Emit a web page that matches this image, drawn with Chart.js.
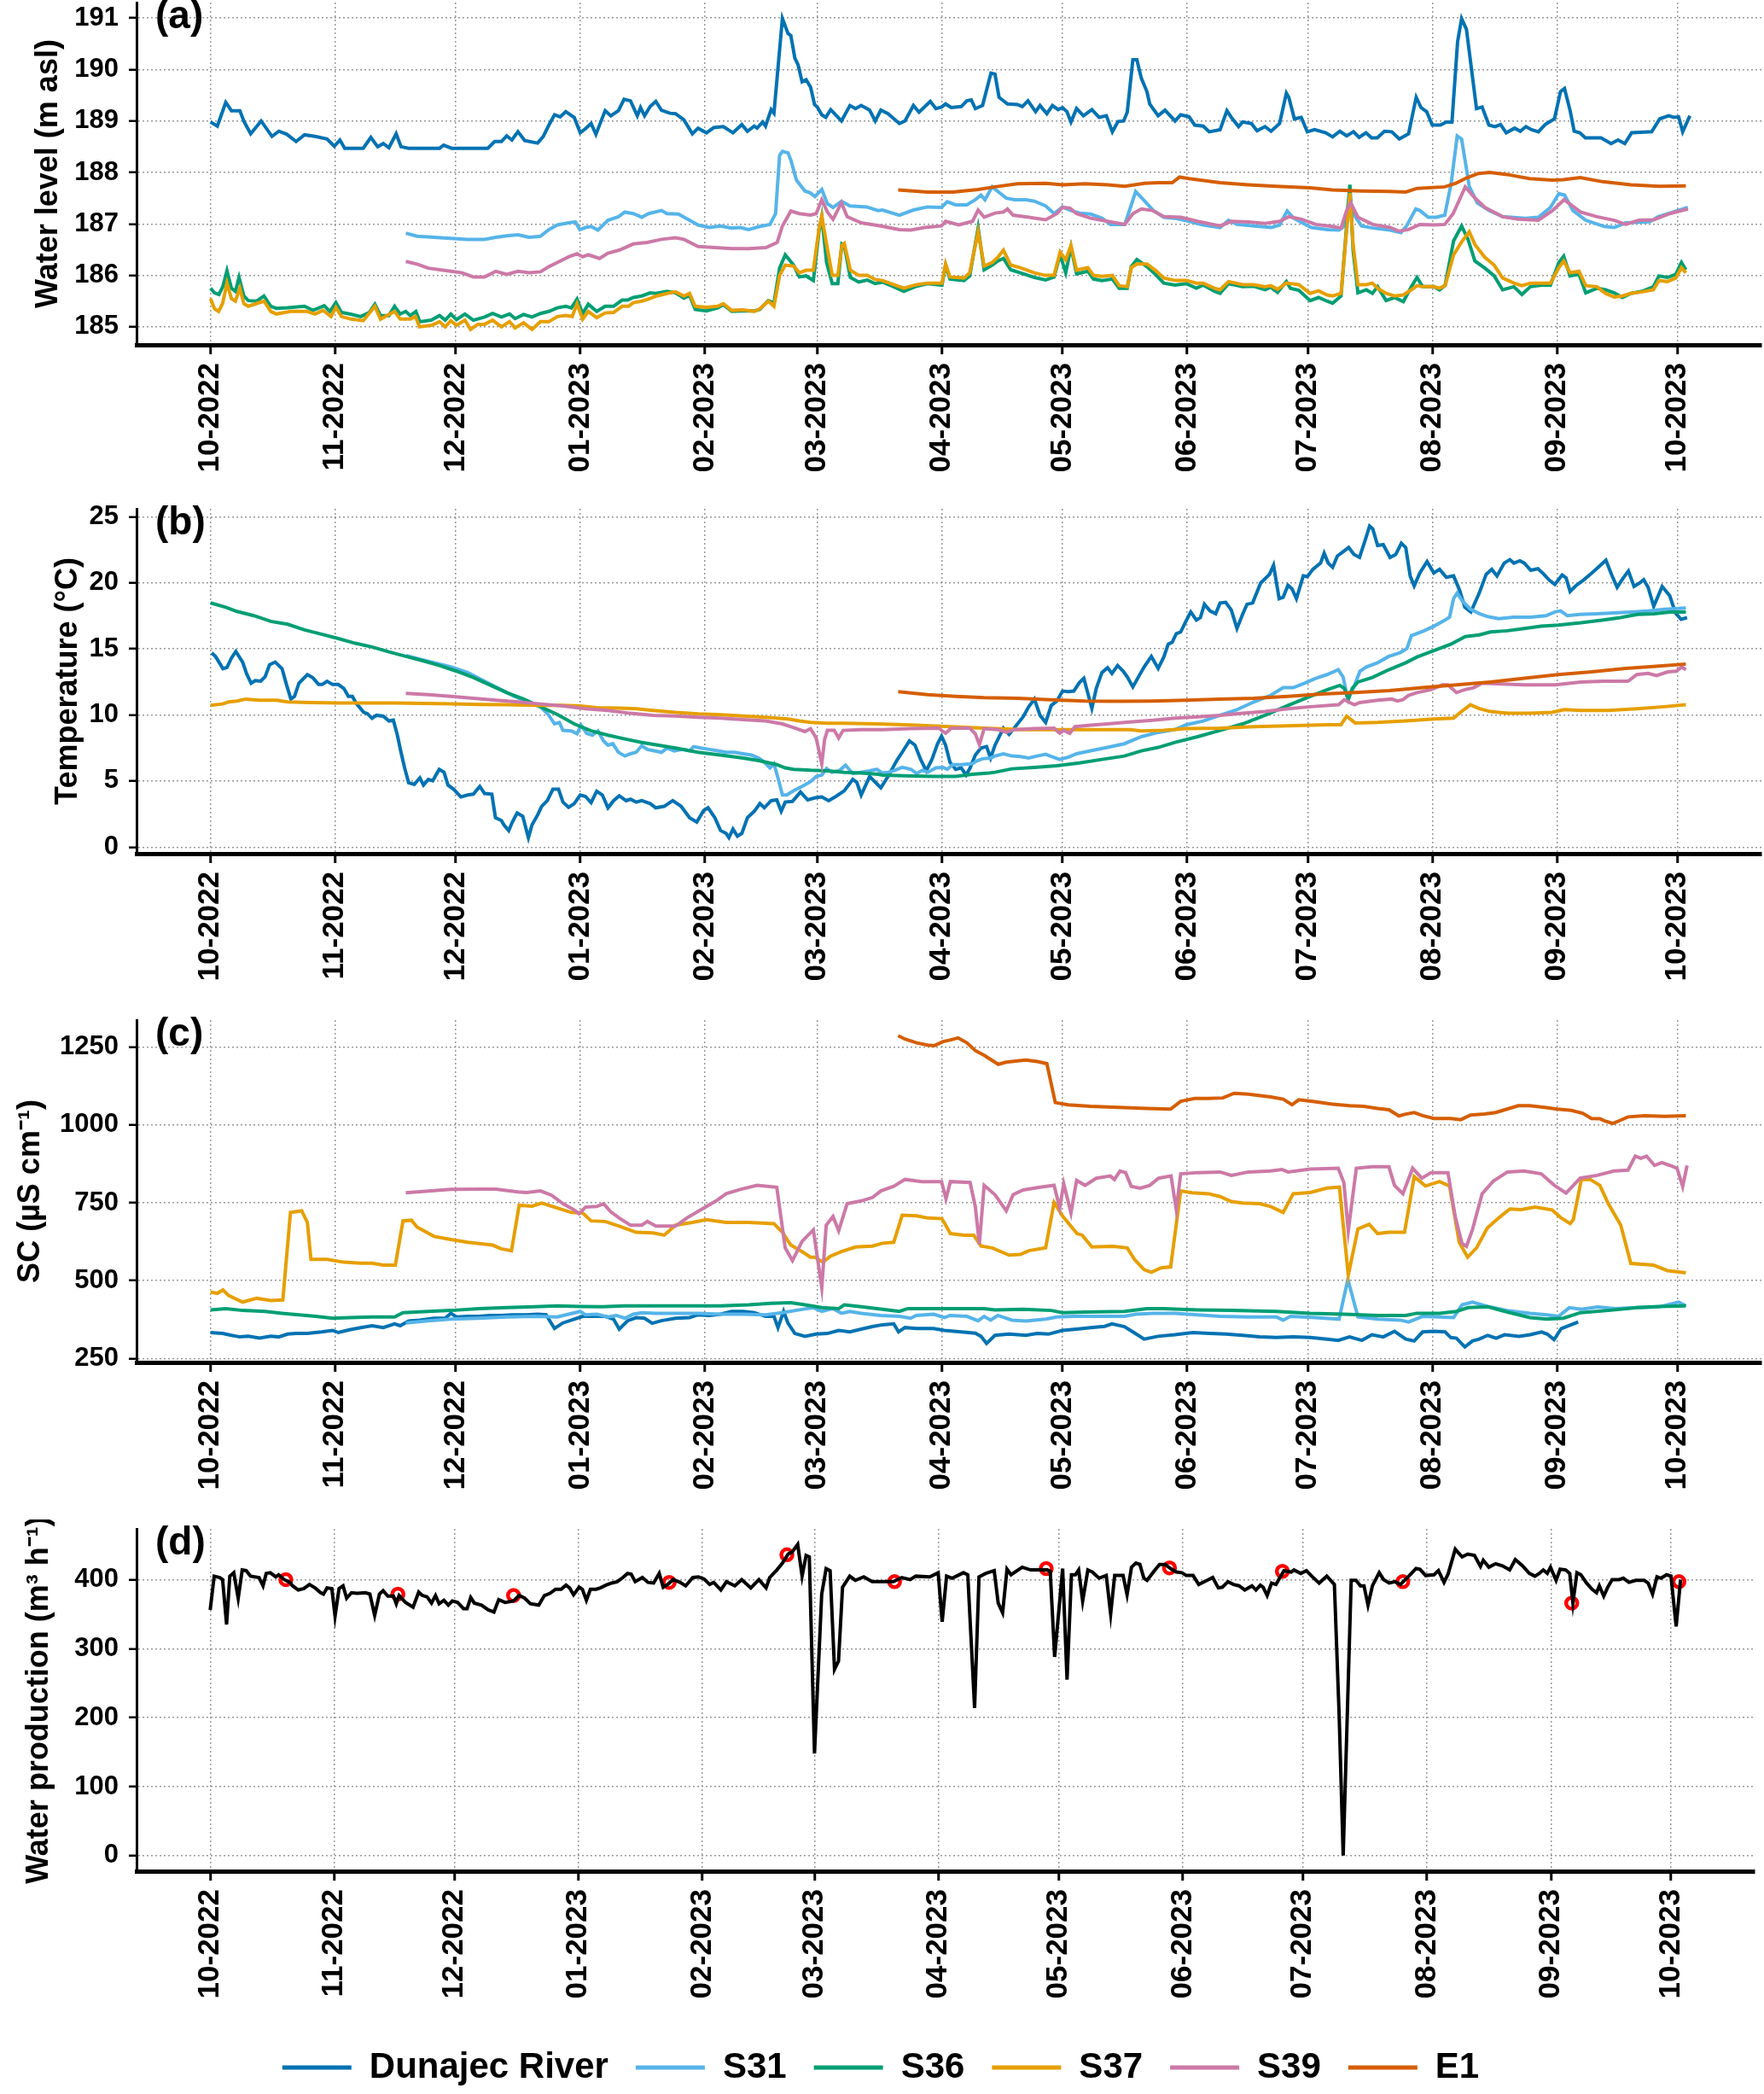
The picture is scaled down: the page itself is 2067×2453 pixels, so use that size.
<!DOCTYPE html>
<html>
<head>
<meta charset="utf-8">
<script src="https://cdn.jsdelivr.net/npm/chart.js@4.4.1/dist/chart.umd.min.js"></script>
<style>
  body { margin: 0; background: #fff; width: 2067px; height: 2453px; position: relative; overflow: hidden; }
  canvas { position: absolute; left: 0; }
</style>
</head>
<body>
<canvas id="panelA" width="2067" height="590" style="top:0px"></canvas>
<canvas id="panelB" width="2067" height="590" style="top:590px"></canvas>
<canvas id="panelC" width="2067" height="600" style="top:1180px"></canvas>
<canvas id="panelD" width="2067" height="673" style="top:1780px"></canvas>
<script>
// days counted from 1 Oct 2022
const monthDays = [0, 31, 61, 92, 123, 151, 182, 212, 243, 273, 304, 335, 365];
const monthLabels = ["10-2022", "11-2022", "12-2022", "01-2023", "02-2023", "03-2023", "04-2023",
  "05-2023", "06-2023", "07-2023", "08-2023", "09-2023", "10-2023"];
const seriesNames = ["Dunajec River", "S31", "S36", "S37", "S39", "E1"];
const seriesColors = ["#0072B2", "#56B4E9", "#009E73", "#E69F00", "#CC79A7", "#D55E00"];

// (a) water level, m asl  [day, value]
const levelRiver = [[0,188.98],[1.7,188.9],[3.8,189.36],[5.2,189.2],[7.3,189.2],[8.4,188.98],[10,188.75],[12.6,189.0],[15.3,188.7],[17,188.8],[19,188.74],[21.3,188.6],[23.4,188.73],[26,188.7],[29,188.65],[30.8,188.51],[32.2,188.63],[33.4,188.47],[38,188.47],[39.9,188.68],[41.6,188.5],[43,188.56],[44.4,188.48],[46.2,188.75],[47.4,188.5],[49.3,188.47],[57,188.47],[58,188.53],[60,188.47],[69,188.47],[70.7,188.6],[72.4,188.6],[73.7,188.71],[75,188.63],[76.5,188.79],[78.2,188.62],[81.4,188.57],[82.8,188.7],[84.2,188.92],[85.6,189.12],[87,189.08],[88.4,189.18],[90.5,189.07],[92,188.77],[93.3,188.85],[94.7,188.95],[95.9,188.74],[98.2,189.2],[99.6,189.1],[101.5,189.2],[102.9,189.42],[104.5,189.39],[106.2,189.1],[107,189.26],[108,189.1],[109.4,189.28],[110.8,189.38],[112.2,189.21],[114.3,189.15],[115.7,189.14],[117.8,189.02],[119.9,188.75],[121.3,188.86],[123.4,188.77],[125.2,188.87],[127.6,188.89],[130,188.77],[132.2,188.93],[133.6,188.8],[135.3,188.9],[136,188.86],[137.4,188.98],[138.1,188.9],[139.5,189.22],[140.2,189.15],[142.3,190.99],[143.7,190.7],[144.4,190.66],[145.4,190.22],[146.2,190.09],[147.2,189.76],[148.2,189.8],[149.3,189.66],[150.3,189.32],[151,189.27],[152.1,189.12],[153.1,189.07],[154.3,189.22],[157,189.0],[159.1,189.3],[160.5,189.24],[161.9,189.3],[164,189.21],[165.4,189.0],[166.8,189.21],[168.6,189.14],[171.4,188.95],[172.8,189.0],[174.9,189.3],[176.3,189.17],[179.1,189.38],[180.5,189.24],[181.9,189.27],[182.9,189.33],[184.3,189.26],[186.8,189.28],[188.2,189.39],[189.3,189.41],[190.3,189.24],[192.1,189.3],[194.2,189.93],[195.2,189.91],[196.2,189.46],[198.3,189.33],[200.8,189.32],[202,189.28],[203.4,189.39],[205.3,189.18],[206.4,189.3],[208.1,189.14],[209.5,189.3],[210.9,189.22],[212,189.26],[213.1,189.18],[214.1,188.98],[215.5,189.24],[217.2,189.1],[219.3,189.22],[221.1,189.07],[222.9,189.1],[224.4,188.79],[225.8,188.99],[227.2,189.0],[228.1,189.17],[229.5,190.19],[230.5,190.19],[231.6,189.83],[233,189.57],[233.7,189.33],[235.8,189.1],[237.5,189.21],[240,189.0],[241.4,189.12],[243.5,189.08],[244.9,188.92],[247,188.9],[248.5,188.79],[251.2,188.83],[252.9,189.2],[254,189.07],[255.8,188.89],[256.8,188.98],[259,188.95],[260.4,188.81],[262.4,188.89],[263.9,188.8],[266,188.95],[267.7,189.54],[268.3,189.46],[269.7,189.04],[271.4,189.07],[272.9,188.79],[274.7,188.83],[277.5,188.77],[279.2,188.69],[281,188.8],[282.7,188.71],[284.4,188.79],[285.8,188.68],[287.5,188.77],[288.9,188.67],[290.3,188.67],[292.1,188.8],[293.9,188.79],[295.8,188.65],[298.1,188.75],[300,189.46],[301.2,189.26],[302.6,189.18],[304,188.92],[306,188.92],[307.5,188.98],[308.9,188.98],[310.3,190.54],[311.3,190.99],[312.5,190.78],[313.9,189.92],[315,189.24],[316.4,189.27],[318.1,188.92],[319.6,188.89],[321,188.93],[322.4,188.77],[324.5,188.86],[325.9,188.8],[327.3,188.89],[328.7,188.83],[330.4,188.79],[332.1,188.93],[334.4,189.04],[335.9,189.57],[336.9,189.63],[338.3,189.2],[339.3,188.8],[340.7,188.77],[342.1,188.67],[346,188.67],[348.5,188.56],[350.2,188.63],[351.9,188.56],[353.6,188.77],[358.6,188.79],[360.6,189.04],[362.8,189.1],[364.1,189.07],[365.3,189.08],[366.3,188.79],[368.1,189.1]];
const levelS31 = [[48.6,186.82],[51.4,186.76],[55.6,186.74],[59.8,186.72],[64,186.7],[68.1,186.7],[71,186.74],[73.7,186.77],[76.5,186.79],[79.3,186.74],[82.1,186.76],[84.2,186.89],[86.3,186.98],[89.1,187.02],[90.8,187.04],[91.9,186.89],[93.3,186.93],[94.7,186.95],[96.4,186.88],[98.9,187.07],[101.5,187.14],[103.1,187.23],[105.2,187.2],[107.3,187.13],[109,187.2],[112.2,187.26],[113.6,187.2],[116.4,187.19],[119.2,187.07],[121.3,186.98],[124.1,186.93],[126.9,186.96],[129.7,186.92],[131.8,186.93],[133.9,186.89],[136.7,186.95],[139.2,186.99],[140.6,187.2],[141.6,188.33],[142.3,188.41],[143.7,188.38],[144.4,188.24],[145.8,187.85],[147.9,187.64],[149.3,187.6],[150.4,187.53],[152.1,187.67],[153.5,187.39],[154.9,187.32],[157,187.44],[159.1,187.35],[163.3,187.33],[166.1,187.26],[167.2,187.27],[171.4,187.17],[174.9,187.27],[178.4,187.33],[181.9,187.32],[183.3,187.43],[185.4,187.37],[188.2,187.37],[190.3,187.47],[191.7,187.56],[192.7,187.47],[194.5,187.72],[195.9,187.63],[198,187.5],[200.1,187.47],[202.9,187.47],[205,187.44],[207.8,187.35],[209.9,187.2],[212,187.33],[214.1,187.26],[216.2,187.21],[219,187.19],[221.8,187.11],[224,186.99],[227.5,186.99],[228.9,187.32],[230.2,187.63],[232.5,187.44],[234.6,187.26],[237.2,187.13],[240,187.11],[243.5,187.05],[247,186.98],[251.2,186.93],[253.3,187.07],[255.4,186.99],[259.8,186.96],[264,186.93],[266,186.98],[267.9,187.25],[269.5,187.11],[273.9,186.93],[278,186.89],[280.8,186.88],[282.2,186.96],[283.4,187.56],[284.3,187.2],[286.4,186.96],[289.2,186.92],[293.5,186.88],[296.2,186.83],[297.6,186.96],[299.9,187.29],[300.9,187.26],[303,187.13],[305.1,187.13],[307.1,187.17],[308.7,187.79],[310.2,188.71],[311.3,188.65],[313.2,187.73],[315.2,187.41],[318.1,187.26],[321.5,187.14],[327.2,187.11],[330.4,187.13],[333.4,187.32],[335.5,187.59],[336.9,187.56],[339,187.26],[342.2,187.07],[346.8,186.95],[349.3,186.93],[352.1,187.02],[358.1,187.04],[360.2,187.14],[363.1,187.21],[367.6,187.32]];
const levelS36 = [[0,185.75],[1,185.66],[2.1,185.63],[3.1,185.79],[4.1,186.09],[5.2,185.75],[6.2,185.69],[7.1,185.96],[8.3,185.6],[9.4,185.51],[11.5,185.5],[13.3,185.6],[15,185.4],[16.4,185.36],[19.2,185.37],[23.4,185.4],[25.5,185.32],[28.3,185.41],[29.7,185.3],[31.2,185.47],[32.6,185.28],[34.6,185.25],[37.4,185.2],[39.5,185.28],[40.9,185.44],[42.3,185.22],[44.4,185.22],[45.8,185.4],[47.2,185.25],[48.6,185.3],[49.7,185.22],[51.1,185.3],[52.1,185.1],[54.9,185.13],[57,185.22],[58.4,185.13],[59.8,185.25],[61.2,185.14],[63.3,185.25],[65.4,185.13],[68.2,185.19],[70.2,185.26],[72.4,185.19],[74.4,185.25],[75.8,185.16],[77.9,185.24],[80,185.19],[82.1,185.26],[84.2,185.3],[86.3,185.37],[88.4,185.4],[89.8,185.37],[91.2,185.54],[92.6,185.26],[94,185.44],[96.1,185.3],[98.2,185.4],[100.3,185.4],[102.4,185.52],[103.8,185.52],[105.2,185.57],[107.3,185.6],[109.4,185.66],[110.8,185.65],[113.6,185.69],[115.7,185.66],[117.8,185.56],[119.2,185.61],[120.6,185.34],[123.4,185.31],[126.2,185.37],[127.6,185.43],[129.7,185.3],[132.5,185.31],[135.3,185.31],[136.7,185.34],[138.8,185.51],[140.2,185.46],[141.6,186.14],[143,186.4],[145.1,186.2],[146.5,185.97],[148.2,185.99],[150,185.9],[151.4,186.85],[152.1,187.14],[153.3,186.25],[154.7,185.84],[156.1,185.84],[157.1,186.61],[157.7,186.58],[159.2,185.96],[161.3,185.87],[163.4,185.91],[165.4,185.84],[167.2,185.87],[170,185.78],[172.5,185.69],[175.7,185.79],[178.4,185.84],[182,185.81],[182.9,186.2],[184,185.93],[187.5,185.9],[188.9,185.99],[191,186.92],[192.5,186.11],[194.5,186.2],[195.9,186.28],[197.3,186.33],[199.1,186.11],[201.5,186.05],[205,185.96],[207.8,185.91],[209.9,185.97],[211.4,186.4],[212.8,186.05],[214.1,186.55],[215.5,186.03],[218.3,186.08],[219.7,185.93],[221.8,185.9],[224.4,185.93],[226.1,185.75],[228.1,185.75],[229.1,186.17],[230.5,186.31],[233,186.17],[235.1,186.02],[237.2,185.85],[240,185.81],[242.8,185.84],[245.3,185.75],[247,185.81],[249.8,185.69],[251.2,185.65],[253.3,185.84],[256.8,185.78],[259.6,185.79],[262.4,185.72],[263.8,185.77],[265.5,185.67],[267.7,185.88],[268.7,185.75],[270.8,185.71],[273.6,185.51],[275.7,185.57],[277.8,185.5],[279.2,185.46],[281.3,185.6],[283.5,187.76],[284.3,186.49],[285.5,185.66],[287.6,185.72],[289.1,185.65],[290.4,185.78],[292.5,185.51],[294.6,185.57],[296.8,185.49],[298.8,185.78],[300.2,185.96],[301.6,185.78],[304.4,185.78],[305.8,185.72],[307.2,185.81],[309.3,186.67],[311.3,186.96],[312.9,186.7],[314.6,186.28],[317.1,186.14],[319.4,185.99],[321.5,185.72],[324.3,185.78],[326.3,185.63],[328.4,185.78],[331.2,185.81],[333.4,185.81],[335.5,186.25],[336.7,186.37],[338.3,185.99],[340.5,186.02],[342.2,185.66],[345,185.75],[347.1,185.72],[349.3,185.66],[351.3,185.57],[353.4,185.65],[356.2,185.69],[359,185.78],[360.4,185.99],[362.5,185.96],[364.6,186.02],[366,186.25],[367.1,186.11]];
const levelS37 = [[0,185.55],[1,185.35],[2,185.3],[3,185.45],[4.1,185.85],[5.2,185.55],[6.2,185.5],[7.3,185.75],[8.3,185.45],[9.4,185.4],[13.3,185.5],[15,185.3],[16.4,185.25],[20,185.3],[24,185.3],[26,185.25],[28,185.32],[30,185.2],[31.2,185.38],[32.6,185.2],[35,185.15],[38,185.12],[40.9,185.4],[42.3,185.15],[45.8,185.3],[47.2,185.15],[49.7,185.15],[51,185.2],[52,185.0],[55,185.03],[57,185.1],[58.4,185.0],[59.8,185.12],[61.2,185.03],[63.3,185.13],[64.7,184.95],[66.5,185.05],[68.2,185.05],[70.2,185.13],[72.4,185.0],[74.4,185.1],[75.8,184.98],[77.9,185.08],[80,184.95],[82.1,185.1],[84.2,185.1],[86.3,185.2],[88.4,185.22],[90,185.2],[91.2,185.45],[92.6,185.15],[94,185.3],[96.1,185.18],[98.2,185.27],[100.3,185.28],[102.4,185.4],[104,185.4],[105.2,185.47],[107.3,185.5],[109.4,185.55],[111,185.6],[113.6,185.65],[115.7,185.68],[117.8,185.6],[119.2,185.65],[120.6,185.4],[123.4,185.38],[126.2,185.4],[127.6,185.45],[129.7,185.32],[132.5,185.33],[135.3,185.3],[136.7,185.35],[138.8,185.5],[140.2,185.4],[141.6,186.0],[143,186.2],[145.1,186.18],[146.5,186.05],[148.2,186.1],[150,186.1],[151.4,186.9],[152.1,187.15],[153.3,186.6],[154.7,186.0],[156.1,186.0],[157.1,186.58],[157.7,186.62],[159.2,186.1],[161.3,186.0],[163.4,186.0],[165.4,185.92],[167.2,185.9],[170,185.82],[172.5,185.75],[175.7,185.82],[178.4,185.85],[182,185.85],[182.9,186.22],[184,185.97],[187.5,185.95],[188.9,186.05],[191,186.85],[192.5,186.18],[194.5,186.25],[195.9,186.35],[197.3,186.49],[199.1,186.2],[201.5,186.15],[205,186.05],[207.8,186.0],[209.9,186.0],[211.4,186.45],[212.8,186.3],[214.1,186.58],[215.5,186.1],[218.3,186.15],[219.7,186.0],[221.8,185.98],[224.4,186.0],[226.1,185.8],[228.1,185.78],[229.1,186.15],[230.5,186.22],[233,186.22],[235.1,186.1],[237.2,185.95],[240,185.9],[242.8,185.9],[245.3,185.85],[247,185.85],[249.8,185.75],[251.2,185.72],[253.3,185.88],[256.8,185.82],[259.6,185.82],[262.4,185.78],[263.8,185.8],[265.5,185.73],[267.7,185.85],[270.8,185.82],[273.6,185.65],[275.7,185.7],[277.8,185.62],[279.2,185.6],[281.3,185.65],[283.5,187.6],[284.3,186.6],[285.5,185.82],[287.6,185.82],[289.1,185.85],[290.4,185.75],[292.5,185.65],[294.6,185.6],[296.8,185.62],[298.8,185.72],[300.2,185.8],[301.6,185.78],[304.4,185.78],[305.8,185.75],[307.2,185.8],[309.3,186.4],[311.3,186.65],[313.2,186.85],[314.6,186.6],[317.1,186.35],[319.4,186.2],[321.5,185.95],[324.3,185.85],[326.3,185.8],[328.4,185.85],[333.4,185.85],[335.5,186.15],[336.7,186.28],[338.3,186.05],[340.5,186.08],[342.2,185.8],[345,185.78],[347.1,185.65],[349.3,185.58],[351.3,185.6],[353.4,185.65],[356.2,185.68],[359,185.72],[360.4,185.9],[362.5,185.88],[364.6,185.95],[366,186.15],[367.1,186.05]];
const levelS39 = [[48.6,186.27],[51.4,186.22],[54.2,186.14],[57,186.11],[59.8,186.08],[62.6,186.05],[65.4,185.97],[68.2,185.97],[71,186.08],[73.7,186.02],[76.5,186.08],[79.3,186.05],[82.1,186.07],[84.2,186.17],[86.3,186.25],[89.1,186.36],[91.2,186.42],[92.6,186.36],[94,186.4],[96.8,186.33],[98.9,186.43],[101.7,186.49],[105.2,186.61],[108.7,186.64],[112.2,186.7],[115.7,186.73],[117.8,186.7],[121.3,186.56],[125.5,186.54],[129.7,186.52],[133.9,186.52],[138.2,186.54],[141,186.64],[142.3,186.96],[144.4,187.25],[146.5,187.2],[149.3,187.17],[150.7,187.2],[152.1,187.47],[153.5,187.23],[154.9,187.09],[157,187.41],[158.4,187.14],[161.9,187.02],[166.8,186.96],[171.4,186.89],[174.2,186.88],[177.7,186.93],[181.9,186.96],[182.9,187.05],[186.2,186.98],[189.6,187.05],[191,187.27],[192.5,187.13],[195.2,187.21],[197.3,187.23],[198.3,187.29],[199.7,187.17],[203.6,187.13],[207.8,187.08],[210.6,187.2],[212,187.32],[213.8,187.31],[215.5,187.2],[219,187.11],[223.2,187.05],[227.5,186.99],[229.5,187.2],[231.6,187.29],[234.4,187.26],[237.2,187.14],[241.4,187.13],[245.6,187.05],[251.2,186.96],[254,187.05],[258.2,187.04],[262.4,187.01],[266,187.05],[268.3,187.14],[271.5,187.09],[275,186.99],[279.2,186.95],[281.3,186.92],[282.7,187.26],[283.7,187.41],[285.5,187.13],[289.2,186.99],[293.5,186.93],[295.7,186.86],[298.1,186.89],[300.9,186.99],[304.4,186.98],[307.1,186.99],[309.2,187.2],[312.2,187.72],[314.3,187.53],[317.1,187.32],[321.5,187.14],[325.4,187.09],[330.4,187.07],[333.9,187.26],[336.8,187.47],[340.9,187.23],[345,187.14],[349.3,187.07],[352.1,186.99],[355.4,187.07],[359.1,187.08],[363.1,187.2],[367.6,187.29]];
const levelE1 = [[171.1,187.66],[178.4,187.62],[184.7,187.62],[191,187.67],[195.2,187.72],[200.8,187.78],[207.8,187.79],[212,187.76],[217.6,187.78],[223.2,187.76],[227.5,187.73],[232.3,187.79],[235.8,187.8],[239.3,187.8],[241.1,187.91],[243.5,187.88],[251.2,187.8],[258.2,187.76],[265.2,187.73],[273.6,187.7],[279.2,187.66],[286.2,187.64],[293.2,187.63],[297.4,187.62],[300.2,187.69],[307.1,187.72],[309.9,187.79],[312.7,187.9],[315.5,187.98],[318.3,188.0],[322.6,187.96],[328.2,187.88],[333.8,187.85],[336.6,187.86],[340.8,187.9],[346.4,187.82],[353.4,187.76],[360.4,187.73],[367.1,187.74]];

// (b) temperature, deg C
const tempRiver = [[0.3,14.7],[1.3,14.4],[3.1,13.5],[4.1,13.6],[5.2,14.3],[6.3,14.8],[8,14.0],[9,13.1],[10.1,12.4],[11.1,12.6],[12.5,12.55],[13.6,12.9],[14.7,13.8],[16.1,14.0],[17.8,13.5],[18.9,12.3],[20,11.2],[20.9,11.4],[22,12.4],[24.1,13.05],[25.5,12.8],[26.9,12.3],[27.8,12.3],[29,12.55],[30.4,12.3],[31.8,12.3],[33.2,12.0],[34.3,11.4],[35.3,11.4],[36.2,10.9],[38.1,10.2],[39,10.1],[40.2,9.75],[41.3,9.97],[43,9.9],[44.4,9.54],[45.5,9.6],[46.5,8.46],[47.4,7.17],[48.3,5.99],[49.3,4.87],[50.7,4.74],[52.1,5.23],[53,4.69],[54.2,5.12],[55.3,5.02],[56.9,5.88],[58.1,5.66],[59.1,4.69],[60.5,4.37],[62.3,3.79],[64,3.94],[65.4,4.0],[67,4.59],[68.2,4.05],[70,4.0],[70.9,2.22],[72.4,2.0],[73,1.68],[74.2,1.25],[75.1,1.89],[76.3,2.58],[77.7,2.33],[79.1,0.71],[80,1.68],[81.4,2.43],[82.4,3.08],[83.8,3.51],[85.2,4.37],[86.6,4.37],[87.7,3.4],[89.1,3.01],[90.5,3.29],[92,3.94],[93.3,3.83],[94.7,3.36],[96.1,4.22],[97.5,3.94],[98.9,2.97],[100.3,3.51],[101.7,3.88],[103.4,3.51],[104.5,3.62],[105.9,3.4],[107.3,3.51],[109.4,3.29],[110.8,2.97],[112.9,3.08],[115,3.51],[117.1,3.08],[119.2,2.22],[121,1.89],[122.7,2.76],[123.8,2.97],[125.5,2.22],[126.9,1.25],[128.3,1.03],[129,0.71],[130,1.36],[131.1,0.82],[132.2,1.03],[133.6,2.22],[135.3,2.71],[136.7,3.29],[137.8,2.97],[139.5,3.51],[140.9,3.57],[142,2.71],[143,3.4],[144.8,3.45],[146.8,4.16],[148.6,3.57],[150.5,3.73],[152.1,3.79],[153.8,3.51],[155.6,3.83],[157.7,4.26],[159.8,5.12],[160.8,4.91],[161.9,3.94],[164,5.34],[165.4,4.91],[166.8,4.48],[168.6,5.34],[170.7,6.52],[172.1,7.17],[173.9,8.03],[175.3,7.71],[176.7,6.63],[178.1,5.77],[179.5,6.63],[180.9,7.82],[181.9,8.4],[182.9,7.71],[184,6.42],[185.4,5.88],[186.8,5.99],[188,5.45],[189,5.99],[190.3,6.96],[191.7,7.49],[193.1,7.6],[194.1,6.74],[195.2,7.71],[197.3,9.0],[198.7,8.53],[200.8,9.32],[202.2,9.86],[203.6,10.62],[205,11.2],[206.4,9.97],[207.8,9.43],[209.2,10.72],[210.6,11.05],[212,11.8],[213.4,11.76],[214.8,11.8],[216.2,12.45],[217.3,12.77],[219.3,10.5],[220.4,12.02],[221.8,13.2],[223.2,13.57],[224.3,13.14],[225.7,13.74],[227.1,13.31],[228.1,12.88],[229.5,12.12],[230.9,12.88],[232.3,13.63],[234.1,14.43],[235.8,13.52],[237.2,14.38],[238.3,15.35],[239.3,15.5],[240.3,16.15],[241.4,16.28],[242.5,16.97],[243.9,17.79],[245.3,17.18],[246.3,17.36],[247.3,18.37],[248.7,17.87],[250.1,17.66],[251.2,18.47],[252.6,18.52],[254,17.94],[255.4,16.54],[256.8,17.61],[257.9,18.37],[259.3,18.47],[261.3,19.98],[263.5,20.63],[264.5,21.32],[265.9,18.8],[266.9,18.91],[268.1,19.81],[269.1,19.55],[270.2,18.8],[271.9,20.52],[272.9,20.46],[274.3,21.02],[276.2,21.49],[277.1,22.24],[278.1,21.49],[279.2,21.17],[280.4,22.03],[281.8,22.35],[283.2,22.67],[284.5,22.14],[285.9,21.92],[287.3,23.21],[288.4,24.29],[289.2,24.07],[290.4,22.82],[291.8,22.89],[293.5,21.92],[294.9,22.14],[296.3,23.0],[297.4,22.67],[298.5,20.52],[299.5,19.77],[300.9,20.74],[302.7,21.6],[304.4,20.74],[305.8,21.02],[307.5,20.41],[309.3,20.52],[310.8,19.44],[312.1,18.15],[313.6,17.79],[315.7,19.23],[317.4,20.63],[318.8,21.02],[320.1,20.52],[321.9,21.49],[323.3,21.75],[324.3,21.49],[325.8,21.66],[326.9,21.49],[328.5,20.95],[330.3,21.06],[331.7,20.67],[333.1,20.2],[334.5,19.87],[336.3,20.59],[337.3,20.37],[338.3,19.34],[339.7,19.77],[341.6,20.2],[343.7,20.74],[345.3,21.17],[347.2,21.71],[348.6,20.63],[350,19.66],[351.4,20.31],[352.8,20.89],[354.2,19.72],[355.6,19.98],[356.6,20.24],[357.7,19.66],[359.1,18.22],[361.2,19.72],[363.1,19.01],[364.5,17.72],[365.9,17.23],[367.4,17.36]];
const tempS31 = [[48.6,14.5],[54.2,14.06],[59.8,13.63],[64,13.2],[68.2,12.55],[72.4,11.9],[75.8,11.37],[79.3,10.94],[82.1,10.62],[84.2,9.97],[85.6,9.32],[86.8,9.43],[87.7,8.83],[89.8,8.79],[91.2,8.57],[92.2,9.22],[93.6,8.61],[95,8.46],[96.4,8.79],[97.8,8.03],[98.9,7.71],[100.1,7.82],[101.5,7.17],[103.1,6.89],[104.5,7.06],[105.9,7.17],[107.3,7.67],[108.7,7.39],[110.4,7.28],[112.2,7.17],[113.6,7.49],[115.4,7.28],[117.4,7.39],[119.2,7.28],[120.2,7.6],[122,7.49],[124.1,7.39],[126.2,7.28],[128.3,7.17],[130.4,7.17],[132.5,7.06],[134.6,6.96],[136.4,6.74],[137.8,6.42],[139.2,5.99],[140.2,6.31],[141.3,5.12],[142.3,3.94],[143.4,3.94],[145.1,4.26],[147.2,4.59],[149.3,4.95],[150.7,5.34],[152.1,5.45],[153.3,5.94],[154.6,5.66],[156.6,5.81],[158,6.2],[159.8,5.56],[161.9,5.66],[164,5.77],[165.8,5.88],[167.2,5.6],[168.6,5.66],[170,5.77],[172.1,6.03],[174.3,5.88],[175.7,5.56],[177.1,5.81],[178.5,5.66],[180.5,5.99],[182.3,6.03],[183.3,5.88],[184.7,6.24],[186.8,6.24],[189.6,6.31],[190.7,6.52],[192.1,6.68],[194.1,6.74],[195.2,6.89],[197.3,7.06],[199.4,6.89],[201.5,6.85],[203.6,6.74],[205.7,6.89],[207.8,7.02],[209.2,6.85],[211.3,6.63],[213.4,6.8],[215.5,7.06],[219,7.28],[223.2,7.54],[227.4,7.82],[231.6,8.35],[235.8,8.68],[240,8.89],[242.8,9.26],[247,9.54],[251.2,9.97],[255.4,10.4],[259.6,10.98],[263.8,11.48],[266.9,12.06],[269.4,12.06],[272.2,12.4],[275,12.77],[277.8,13.05],[280.6,13.42],[281.8,12.88],[282.7,11.58],[284.1,11.8],[286,13.31],[287.6,13.63],[290.4,13.95],[293.2,14.43],[296,14.71],[297.7,15.03],[298.8,16.0],[301.6,16.32],[304.4,16.71],[307.2,17.18],[308.3,17.4],[309.3,18.8],[310.2,19.23],[311.6,18.58],[313.5,18.0],[315.7,17.66],[317.8,17.44],[320.5,17.29],[324.2,17.4],[328.4,17.4],[332.3,17.51],[334.5,17.79],[335.9,17.87],[337.6,17.51],[340.7,17.61],[345,17.66],[349.2,17.72],[353.4,17.79],[357.6,17.87],[361.8,18.0],[367.1,18.09]];
const tempS36 = [[0,18.48],[3.8,18.15],[6.6,17.83],[10.8,17.51],[15,17.08],[19.2,16.86],[23.4,16.43],[27.6,16.11],[31.8,15.78],[36,15.42],[40.2,15.14],[44.4,14.77],[48.6,14.43],[52.8,14.1],[57,13.74],[61.2,13.31],[65.4,12.83],[69.5,12.27],[73.7,11.69],[77.9,11.2],[82.1,10.62],[86.3,10.03],[90.5,9.32],[94.7,8.79],[98.9,8.46],[103.1,8.18],[107.3,7.92],[111.5,7.71],[115.7,7.49],[121.3,7.17],[126.9,6.96],[132.5,6.74],[136.7,6.52],[140.9,6.24],[143,5.99],[145.1,5.88],[149.3,5.81],[153.5,5.77],[157.7,5.66],[161.9,5.6],[166.1,5.51],[167.2,5.45],[174.2,5.38],[179.8,5.34],[185.4,5.34],[189.6,5.51],[193.8,5.6],[195.2,5.66],[199.4,5.92],[205,6.03],[210.6,6.16],[216.2,6.37],[221.8,6.63],[227.4,6.89],[231.6,7.28],[235.8,7.54],[240,7.92],[245.6,8.35],[251.2,8.83],[256.8,9.32],[262.4,9.97],[268.1,10.72],[273.7,11.41],[277.9,11.91],[281,12.23],[282.1,12.02],[283.1,11.15],[284.1,12.02],[285.5,12.49],[289.1,12.83],[293.2,13.42],[297.4,13.95],[300.2,14.38],[304.4,14.86],[308.6,15.35],[312.2,15.93],[315.7,16.06],[318.5,16.28],[322.7,16.37],[326.9,16.54],[331.1,16.71],[335.4,16.8],[341,16.97],[346.6,17.18],[350.8,17.36],[355,17.61],[359.2,17.66],[363.1,17.79],[367.1,17.79]];
const tempS37 = [[0,10.72],[3,10.83],[4.5,10.98],[6.6,11.05],[8.7,11.2],[12.2,11.11],[16.4,11.11],[19.2,10.98],[24.8,10.94],[31.8,10.9],[38.8,10.9],[45.8,10.9],[52.8,10.87],[59.8,10.83],[66.8,10.79],[73.7,10.77],[80.7,10.72],[87.7,10.72],[92,10.68],[96.1,10.55],[101.7,10.51],[105.9,10.47],[110.1,10.34],[115.7,10.19],[121.3,10.08],[126.9,10.01],[132.5,9.91],[138.1,9.82],[143.7,9.69],[146.5,9.54],[149.3,9.43],[153.5,9.37],[157.7,9.37],[166.1,9.32],[175.6,9.22],[184,9.11],[192.5,9.0],[202.3,8.89],[212.1,8.89],[223.2,8.89],[228.8,8.89],[231.6,8.79],[237.2,8.83],[242.8,8.96],[251.2,9.0],[259.6,9.11],[268,9.17],[277.8,9.26],[281.3,9.26],[282.7,9.91],[284.8,9.39],[290.4,9.43],[297.4,9.54],[304.4,9.69],[309.3,9.75],[311.4,10.29],[313.5,10.77],[315.7,10.47],[318.5,10.25],[322.7,10.12],[328.3,10.12],[333.8,10.19],[336.8,10.4],[341,10.34],[347.7,10.34],[355,10.47],[361.7,10.62],[367.1,10.77]];
const tempS39 = [[48.6,11.63],[54.2,11.54],[59.8,11.41],[65.4,11.26],[71,11.11],[76.5,10.98],[82.1,10.83],[87.7,10.68],[93.3,10.47],[98.9,10.34],[104.5,10.12],[110.1,9.97],[115.7,9.91],[121.3,9.82],[126.9,9.75],[132.5,9.65],[138.1,9.54],[142.3,9.32],[145.1,9.04],[147.9,8.74],[149.3,8.96],[150.7,8.25],[152.1,6.31],[152.8,8.14],[153.5,8.83],[155.2,8.83],[156.3,8.25],[157.4,8.83],[161.9,8.89],[167.2,8.89],[174.2,8.96],[181.2,9.0],[182.9,8.61],[184.3,9.0],[188.9,9.0],[190.3,8.57],[191.3,7.75],[192.5,8.96],[196,8.89],[198,8.68],[200.1,8.89],[205,8.96],[209.9,9.0],[211.3,8.61],[212.3,8.83],[213.8,8.61],[215.1,9.11],[219,9.22],[223.2,9.32],[228.8,9.47],[234.4,9.6],[240,9.75],[245.6,9.86],[251.2,9.97],[256.8,10.12],[262.4,10.25],[268.1,10.47],[273.7,10.62],[280.7,10.77],[282.1,11.15],[283.5,10.94],[284.6,10.77],[286,10.94],[290.4,11.11],[293.9,11.2],[295.3,11.05],[296.7,11.15],[298.1,11.48],[300.2,11.69],[303.7,11.91],[306.5,12.27],[307.9,12.27],[310,11.69],[312.1,11.91],[314.3,12.06],[316.4,12.4],[321.3,12.34],[326.9,12.27],[334.6,12.27],[340.9,12.49],[346.5,12.55],[352.7,12.55],[354.9,13.05],[357.7,13.14],[359.8,12.98],[362.6,13.26],[364.7,13.31],[366.1,13.63],[367.1,13.42]];
const tempE1 = [[171.1,11.76],[178.4,11.54],[185.4,11.41],[192.5,11.3],[200.8,11.26],[209.2,11.15],[217.6,11.05],[226,11.03],[234.4,11.05],[242.8,11.11],[251.2,11.2],[259.6,11.26],[268.1,11.41],[276.5,11.58],[284.8,11.69],[293.3,11.84],[301.6,12.06],[310,12.27],[318.4,12.49],[326.9,12.77],[335.3,13.05],[343.7,13.26],[352.1,13.52],[360.5,13.7],[367.1,13.85]];

// (c) specific conductance, uS/cm
const scRiver = [[0,333],[3,330],[5.2,324],[7.3,319],[9.4,321],[12.2,315],[15,321],[17,319],[19.2,328],[21.3,330],[24.1,330],[27.6,335],[30.4,340],[31.8,333],[34.6,342],[37.4,349],[40.2,355],[43,349],[45.8,361],[47.2,355],[49.3,370],[52.1,373],[55.6,379],[58.4,379],[59.8,395],[61.2,383],[64,385],[66.8,385],[69.5,388],[72.4,388],[75.1,390],[78.6,390],[81.4,392],[83.5,390],[85.6,346],[87.7,364],[90.5,376],[92.6,385],[95.4,385],[98.2,385],[100.3,376],[101.7,344],[103.8,371],[105.9,381],[108,379],[109.9,363],[112.2,371],[115.7,379],[119.2,381],[121.3,390],[124.1,388],[126.9,392],[129.7,401],[132.5,401],[135.3,397],[138.1,385],[140.2,385],[141.2,349],[142.6,401],[143.7,363],[145.4,330],[147.9,321],[150.7,328],[153.5,330],[156.3,340],[159.1,335],[161.9,344],[164.7,352],[167.2,358],[170,361],[171.2,335],[172.8,349],[175.7,346],[179.9,346],[182.6,340],[186.8,335],[190.3,331],[191.7,321],[193.1,298],[195.2,324],[198.7,328],[202.9,324],[205.7,330],[208.5,328],[212,340],[215.5,344],[219,349],[222.5,353],[224.3,361],[227.4,352],[229.5,335],[232.3,312],[235.8,321],[240,326],[244.4,333],[248.6,330],[252.6,328],[256.8,324],[261,319],[265.2,317],[269.4,319],[273.6,317],[277.8,312],[280.6,308],[283.4,319],[286.5,308],[289,326],[291.8,319],[294.6,337],[297.4,312],[299.5,306],[301.6,335],[304.4,337],[307.2,335],[308.6,317],[310,315],[312.1,287],[314,306],[315.7,312],[317.8,324],[319.9,315],[322,326],[325.6,321],[328.4,326],[331.2,335],[332.6,328],[334.3,310],[336.1,346],[340.3,367]];
const scS31 = [[48.6,364],[54.2,371],[59.8,376],[66.8,379],[73.7,383],[80.7,385],[86.3,383],[89.1,392],[92,401],[93.3,390],[96.1,392],[98.9,383],[101,388],[103.1,379],[105.2,392],[107.3,397],[110.8,395],[115.7,395],[121.3,395],[126.9,392],[132.5,392],[138.1,390],[142.3,397],[146.5,406],[150,413],[152.1,401],[154.9,410],[157,395],[159.1,401],[161.9,395],[166.8,388],[171.4,385],[174.2,379],[175.6,388],[179.9,392],[182.6,381],[184,388],[188.2,385],[191,371],[192.5,385],[194.1,373],[195.9,388],[199.4,373],[202.9,370],[207.8,376],[210.6,383],[214.8,385],[220.4,385],[227.4,385],[230.2,392],[234.4,395],[240,395],[245.6,390],[251.2,385],[258.2,383],[265.2,383],[266.9,373],[268.7,385],[274.9,381],[280.8,376],[283,504],[285.5,383],[290.4,376],[296,373],[298.1,367],[301.6,385],[305.8,383],[309.3,381],[311.4,422],[314,431],[317.8,417],[322.6,404],[328.3,395],[332.5,390],[335.4,385],[338.1,413],[341,408],[345.2,415],[349.4,410],[355,413],[360.3,415],[365.3,431],[367.1,419]];
const scS36 = [[0,406],[3.8,410],[8,404],[13.6,401],[17.8,395],[22,390],[26.2,385],[30.4,379],[34.6,381],[40.2,383],[45.8,383],[47.9,397],[54.2,401],[59.8,404],[66.8,410],[73.7,413],[80.7,416],[86.3,419],[92,417],[97.5,416],[103.1,419],[110.1,419],[118.5,419],[126.9,419],[133.9,422],[139.5,427],[144.4,429],[147.9,422],[152.1,413],[156.3,410],[157.7,422],[161.9,416],[167.2,408],[171.4,401],[173.5,410],[179.9,410],[186.8,410],[192.5,410],[195.2,406],[202.2,408],[209.2,404],[212,397],[217.6,399],[227.4,401],[233,410],[237.2,410],[245.6,406],[254,404],[265.2,401],[273.6,395],[282.1,392],[290.4,388],[297.4,388],[300.2,395],[305.8,395],[310,401],[312.9,413],[317.8,416],[322.7,399],[328.3,381],[332.5,376],[336.6,379],[340.9,397],[347.8,404],[355,413],[360.3,417],[367.1,419]];
const scS37 = [[0,463],[1.7,459],[3.1,470],[4.5,452],[8,431],[11.5,443],[15,436],[18,438],[19.9,719],[22.7,724],[24.1,687],[25,568],[29,568],[33.2,559],[37.4,556],[40.2,556],[43,550],[46,550],[47.9,692],[50,694],[51.4,672],[55.6,642],[59.8,632],[64,623],[66.8,619],[70.2,614],[72.3,602],[74.9,596],[76.8,742],[80,739],[82.4,749],[86.3,733],[89.8,719],[92.6,717],[94.7,692],[98.2,690],[101.7,675],[105.9,655],[110.1,653],[112.9,646],[115.7,678],[119.9,687],[123.4,696],[128.3,687],[133.9,687],[140.2,683],[142.3,655],[144.4,614],[147.2,593],[149.3,575],[150.4,575],[152.4,559],[154.2,578],[157,593],[160.5,608],[164.7,611],[167.2,620],[170,623],[172.1,710],[175.7,708],[178.5,701],[182,699],[184.1,651],[187.5,646],[189.9,646],[191.7,611],[194.5,605],[198.7,582],[201.5,584],[203.6,596],[207.8,605],[209.9,751],[212.1,706],[215.6,651],[216.9,646],[219.3,608],[224.6,610],[228.1,605],[229.9,568],[232.3,535],[234.1,527],[236.5,541],[238.9,544],[241.4,788],[244.2,782],[248.4,779],[251.2,770],[254,754],[256.8,749],[261,747],[263.8,738],[266.9,719],[269.4,779],[273.6,783],[277.8,797],[280.9,800],[283.1,518],[285.5,666],[288.3,681],[290.4,651],[293.2,655],[297.1,655],[299.5,834],[302.3,804],[305.8,818],[308.3,804],[310.7,623],[312.8,575],[315,605],[317.7,669],[320.5,701],[323.3,730],[326.1,728],[329.6,736],[333.8,727],[335.9,703],[338.3,683],[339.1,696],[341.1,825],[343.3,825],[345.7,806],[347.8,747],[350.9,678],[353.4,555],[359,550],[362.5,532],[367.1,525]];
const scS39 = [[48.6,782],[54.2,788],[59.8,793],[66.8,794],[71,794],[76.5,785],[78.6,783],[82.1,788],[84.9,774],[87.7,747],[90.5,727],[91.7,715],[93.3,736],[96.1,738],[97.8,747],[99.6,721],[101.7,701],[104.5,678],[107.3,678],[108.7,690],[110.8,675],[115.7,675],[118.5,701],[122.7,733],[125.8,756],[128.3,779],[131.8,793],[136,806],[140.9,800],[143,605],[144.8,564],[147.2,626],[150,663],[152.1,477],[153.2,678],[154.9,706],[156.3,660],[158.4,747],[161.9,756],[164.7,767],[166.8,788],[170,803],[172.8,825],[177,818],[181.9,818],[183,763],[184.1,818],[189,815],[190.3,738],[191.3,617],[192.5,806],[195.2,776],[198,724],[199.7,776],[202.2,791],[206.4,800],[209.9,806],[211.3,733],[212.3,811],[214.1,717],[215.5,822],[217.6,806],[220.4,829],[223.9,836],[224.9,825],[226.3,852],[227.7,847],[229.1,803],[231.3,797],[233.7,806],[235.9,829],[239,836],[240.3,728],[241.4,843],[245.6,847],[251.2,849],[254,838],[258.2,849],[263.8,852],[266.6,857],[268.1,849],[273.6,858],[280.6,861],[282,815],[283.1,660],[285.1,861],[289,866],[293.2,866],[294.6,806],[296.7,779],[299.1,861],[301.4,829],[303.7,847],[307.9,847],[309.7,706],[311.4,619],[312.5,610],[314,664],[316.4,779],[319.2,820],[322.7,849],[326.9,852],[331.1,843],[334.4,806],[337.3,781],[340.8,829],[345,838],[349.2,852],[352.7,855],[354.5,900],[355.9,893],[357.3,900],[359.3,870],[361.1,879],[363.1,870],[364.9,861],[366.3,802],[367.4,870]];
const scE1 = [[171.1,1287],[172.8,1276],[175.7,1264],[178.4,1257],[180.1,1255],[182.3,1268],[184,1273],[186,1280],[188.2,1264],[190.3,1239],[192.5,1224],[196,1195],[198,1202],[200.8,1206],[202.9,1209],[205.7,1204],[208.1,1197],[210.2,1072],[213.4,1065],[219,1060],[227.4,1056],[233,1053],[238.9,1051],[241.4,1076],[244.9,1085],[248.4,1085],[251.9,1087],[254.7,1102],[258.2,1099],[263.8,1090],[266.9,1083],[269.1,1065],[270.8,1081],[274.3,1076],[279.2,1067],[283.4,1062],[286.9,1060],[290.4,1053],[293.2,1049],[295.7,1029],[297.4,1035],[299.5,1040],[301.6,1030],[304.4,1021],[308.6,1021],[311.1,1017],[313.5,1032],[317,1035],[319.8,1040],[322.6,1051],[325.4,1062],[328.2,1062],[332.4,1056],[335.1,1051],[338.6,1047],[341.4,1038],[343.6,1021],[345.7,1020],[347.1,1012],[348.9,1005],[350.6,1014],[352.7,1026],[356.9,1030],[361.8,1028],[367.1,1030]];

// (d) water production, m3/h, and the sampling dates (red circles)
const production = [[0,356],[1,405],[2.4,403],[3.1,400],[4.1,335],[4.9,405],[5.9,410],[7,373],[8,414],[9,413],[10.1,405],[12.2,403],[13.2,391],[14,409],[15,410],[16.4,404],[17.1,407],[18.5,400],[19.9,396],[20.6,391],[22,385],[23.4,387],[24.8,393],[26.2,388],[27.6,381],[28.3,379],[29.2,388],[30.4,387],[31.2,347],[32.2,387],[33.2,391],[34.1,373],[35.3,381],[36.7,380],[38.8,381],[39.9,379],[41.1,348],[42.3,379],[43.2,384],[44.4,376],[45.8,376],[46.5,365],[47.2,377],[48.8,367],[50.7,360],[52.1,382],[53,377],[54.2,375],[55.3,366],[56.3,377],[57.2,365],[58.4,370],[59.5,363],[60.5,369],[61.8,367],[63.3,358],[64.2,358],[65.1,374],[66,366],[67.8,363],[69.5,356],[70.9,353],[72.1,371],[73.7,367],[75.8,369],[77.2,377],[78.6,373],[80,365],[82.1,363],[83.5,377],[84.9,380],[86.3,386],[87.7,386],[88.9,392],[89.8,388],[90.8,378],[92.2,389],[93,386],[94,370],[95,386],[96.4,386],[97.5,388],[98.9,392],[100.3,395],[101.7,397],[103.1,403],[104.3,409],[105.2,408],[106.2,397],[108,403],[109.4,396],[110.8,395],[112.2,409],[113.2,389],[114.3,393],[115.7,400],[117.4,396],[118.8,391],[120.6,403],[122,404],[123.4,401],[124.8,393],[125.8,396],[127.6,385],[129,397],[131.1,391],[132.8,400],[135.1,388],[137.1,400],[138.9,388],[139.8,403],[141.6,414],[143,424],[144.4,437],[145.4,440],[146.8,451],[147.9,405],[148.9,435],[149.7,433],[151,148],[152.8,379],[153.9,416],[154.9,413],[156,270],[157,282],[158,389],[159.8,405],[161.2,399],[163.3,404],[165.4,397],[170.7,397],[172.8,403],[174.9,400],[176.3,405],[179.8,404],[181.9,410],[182.9,339],[184,405],[185.4,402],[188.2,410],[189.3,407],[191,214],[192.1,404],[193.8,409],[195.9,413],[196.9,366],[198,352],[199.1,415],[200.1,407],[202.9,418],[205,414],[209.2,414],[209.9,412],[211,288],[213,416],[214.1,255],[215.2,407],[216.2,407],[217,414],[218,369],[219.3,414],[220.4,411],[222.1,402],[223.9,406],[225,350],[226,406],[228.1,406],[229.1,378],[230.2,418],[231.3,424],[232.3,422],[233.3,402],[234.1,399],[235.8,412],[237.2,422],[238.6,422],[240,416],[241.4,411],[242.8,410],[243.9,406],[245.6,406],[247,393],[249.1,399],[250.5,403],[251.9,388],[252.9,389],[254.3,397],[255.7,393],[257.1,391],[258.5,385],[260.3,391],[261.3,385],[262.4,392],[263.1,389],[264.1,377],[265.2,395],[266.3,393],[268.3,413],[270.1,411],[270.8,414],[272.5,409],[273.9,413],[275.4,404],[277.1,395],[279,405],[280.9,393],[282.1,202],[283.1,0],[285.1,399],[286.3,399],[287.4,391],[288.3,391],[289.3,363],[290.4,391],[292.1,410],[293.2,400],[294.6,395],[296,397],[297.4,393],[299.5,405],[301.3,416],[302.3,415],[303.7,406],[305.8,407],[306.9,413],[308.3,396],[309.3,408],[311.1,444],[312.8,433],[314.2,437],[315.9,435],[317.4,419],[318.1,428],[319.5,418],[321.2,423],[322.9,420],[324.7,414],[326.1,429],[327.9,420],[329.6,409],[331,405],[332.1,409],[333.1,414],[334.1,409],[334.9,418],[336.3,399],[337.3,415],[338.7,414],[339.7,409],[340.5,366],[341.5,410],[342.5,407],[343.9,395],[345.3,386],[346.4,381],[347.1,391],[348.2,376],[349.2,389],[350.3,400],[352,400],[353.1,402],[354.5,396],[356.2,399],[358.3,399],[359.3,395],[360.4,379],[361.5,404],[362.5,402],[363.9,407],[365,405],[366.3,332],[367.4,400]];
const samplingDays = [18.9, 46.9, 75.8, 114.7, 144.1, 171, 208.9, 239.7, 267.9, 298, 340.2, 367];
const samplingProd = [400, 379, 377, 396, 436, 397, 416, 417, 412, 397, 366, 397];

const yTicksA = [185, 186, 187, 188, 189, 190, 191];
const yTicksB = [0, 5, 10, 15, 20, 25];
const yTicksC = [250, 500, 750, 1000, 1250];
const yTicksD = [0, 100, 200, 300, 400];

Chart.defaults.font.family = "'Liberation Sans', Arial, sans-serif";
Chart.defaults.font.weight = 'bold';
Chart.defaults.color = '#000';

function xy(pairs) {
  return pairs.map(p => ({x: p[0], y: p[1]}));
}

function lineSets(groups) {
  return groups.map((g, i) => ({
    label: seriesNames[i],
    data: xy(g),
    borderColor: seriesColors[i],
    backgroundColor: seriesColors[i],
    borderWidth: 4,
    order: 10 - i
  }));
}

// writes (a), (b)... at the top left of the plot area
const panelTag = {
  id: 'panelTag',
  afterDraw(chart, args, opts) {
    const ctx = chart.ctx, area = chart.chartArea;
    ctx.save();
    ctx.font = "bold 46px 'Liberation Sans', Arial, sans-serif";
    ctx.fillStyle = '#000';
    ctx.textBaseline = 'top';
    ctx.fillText(opts.text, area.left + 22, area.top - 6);
    ctx.restore();
  }
};

function makePanel(id, cfg) {
  return new Chart(document.getElementById(id), {
    type: 'line',
    data: {datasets: cfg.datasets},
    options: {
      responsive: false,
      animation: false,
      devicePixelRatio: 1,
      layout: {padding: {top: cfg.padTop, right: 3, left: 0, bottom: 0}},
      elements: {point: {radius: 0}, line: {tension: 0}},
      plugins: {
        legend: cfg.legend || {display: false},
        tooltip: {enabled: false},
        panelTag: {text: cfg.tag}
      },
      scales: {
        x: {
          type: 'linear', min: -18.4, max: 385.9,
          afterBuildTicks: ax => { ax.ticks = monthDays.map(v => ({value: v})); },
          afterFit: ax => { ax.height = cfg.xHeight; },
          ticks: {
            callback: (v, i) => monthLabels[i],
            autoSkip: false, maxRotation: 90, minRotation: 90,
            padding: 10, font: {size: 35, weight: 'bold'}
          },
          grid: {color: '#999999', lineWidth: 1.5, tickLength: 11, tickColor: '#000', tickWidth: 3},
          border: {display: true, color: '#000', width: 5, dash: [2, 3]}
        },
        y: {
          type: 'linear', min: cfg.yMin, max: cfg.yMax,
          afterBuildTicks: ax => { ax.ticks = cfg.yTicks.map(v => ({value: v})); },
          afterFit: ax => { ax.width = 160; ax.paddingTop = 0; ax.paddingBottom = 0; },
          ticks: {callback: v => String(v), padding: 12, font: {size: 31, weight: 'bold'}},
          grid: {color: '#999999', lineWidth: 1.5, tickLength: 9, tickColor: '#000', tickWidth: 2.5},
          border: {display: true, color: '#000', width: 3, dash: [2, 3]},
          title: {
            display: true, text: cfg.yTitle,
            font: {size: 36, weight: 'bold'},
            padding: {top: cfg.titlePad, bottom: 0}
          }
        }
      }
    },
    plugins: [panelTag]
  });
}

makePanel('panelA', {
  tag: '(a)', padTop: 3, xHeight: 186,
  yMin: 184.65, yMax: 191.3, yTicks: yTicksA,
  yTitle: 'Water level (m asl)', titlePad: 35,
  datasets: lineSets([levelRiver, levelS31, levelS36, levelS37, levelS39, levelE1])
});

makePanel('panelB', {
  tag: '(b)', padTop: 6, xHeight: 180,
  yMin: -0.5, yMax: 25.6, yTicks: yTicksB,
  yTitle: 'Temperature (°C)', titlePad: 58,
  datasets: lineSets([tempRiver, tempS31, tempS36, tempS37, tempS39, tempE1])
});

makePanel('panelC', {
  tag: '(c)', padTop: 15, xHeight: 184,
  yMin: 237, yMax: 1337, yTicks: yTicksC,
  yTitle: 'SC (µS cm⁻¹)', titlePad: 14,
  datasets: lineSets([scRiver, scS31, scS36, scS37, scS39, scE1])
});

// panel (d) also carries the shared legend (entries only, no data)
const legendEntries = seriesNames.map((name, i) => ({
  label: name, data: [], borderColor: seriesColors[i],
  backgroundColor: seriesColors[i], borderWidth: 0
}));

makePanel('panelD', {
  tag: '(d)', padTop: 10, xHeight: 177,
  yMin: -22.5, yMax: 473.5, yTicks: yTicksD,
  yTitle: 'Water production (m³ h⁻¹)', titlePad: 24,
  legend: {
    display: true, position: 'bottom',
    labels: {
      boxWidth: 81, boxHeight: 5, padding: 32, color: '#000',
      font: {size: 42, weight: 'bold'},
      filter: item => item.datasetIndex >= 2
    }
  },
  datasets: [
    {label: 'Sampling', data: samplingDays.map((d, i) => ({x: d, y: samplingProd[i]})),
     showLine: false, pointRadius: 6.5, pointBorderWidth: 4.5, pointBorderColor: '#ff0000',
     pointBackgroundColor: 'rgba(0,0,0,0)', order: 2},
    {label: 'Production', data: xy(production), borderColor: '#000', borderWidth: 4, order: 1}
  ].concat(legendEntries)
});
</script>
</body>
</html>
